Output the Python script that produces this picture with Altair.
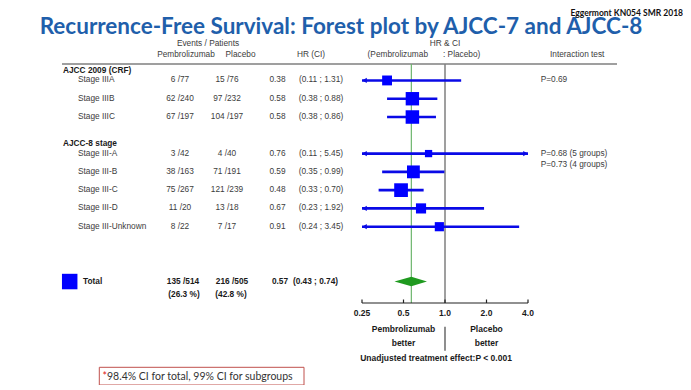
import altair as alt
import pandas as pd

# ---------------- data ----------------
title_text = "Recurrence-Free Survival: Forest plot by AJCC-7 and AJCC-8"
source_text = "Eggermont KN054 SMR 2018"

group_titles = ["AJCC 2009 (CRF)", "AJCC-8 stage"]

ajcc7_labels = ["Stage IIIA", "Stage IIIB", "Stage IIIC"]
ajcc7_pem_events = [6, 62, 67]
ajcc7_pem_n = [77, 240, 197]
ajcc7_pla_events = [15, 97, 104]
ajcc7_pla_n = [76, 232, 197]
ajcc7_hr = [0.38, 0.58, 0.58]
ajcc7_lo = [0.11, 0.38, 0.38]
ajcc7_hi = [1.31, 0.88, 0.86]

ajcc8_labels = ["Stage III-A", "Stage III-B", "Stage III-C", "Stage III-D", "Stage III-Unknown"]
ajcc8_pem_events = [3, 38, 75, 11, 8]
ajcc8_pem_n = [42, 163, 267, 20, 22]
ajcc8_pla_events = [4, 71, 121, 13, 7]
ajcc8_pla_n = [40, 191, 239, 18, 17]
ajcc8_hr = [0.76, 0.59, 0.48, 0.67, 0.91]
ajcc8_lo = [0.11, 0.35, 0.33, 0.23, 0.24]
ajcc8_hi = [5.45, 0.99, 0.70, 1.92, 3.45]

total_label = "Total"
total_pem = [135, 514]
total_pla = [216, 505]
total_pct = ["(26.3 %)", "(42.8 %)"]
total_hr = 0.57
total_ci = [0.43, 0.74]

interaction_texts = [["P=0.69"], ["P=0.68 (5 groups)", "P=0.73 (4 groups)"]]

axis_ticks = [0.25, 0.5, 1.0, 2.0, 4.0]
axis_labels = ["0.25", "0.5", "1.0", "2.0", "4.0"]
favour_labels = [["Pembrolizumab", "better"], ["Placebo", "better"]]
favour_at = [0.5, 2.0]
effect_text = "Unadjusted treatment effect:P  < 0.001"
footnote_star = "*"
footnote_text = "98.4% CI for total, 99% CI for subgroups"

header_top = ["Events / Patients", "HR & CI"]
header_sub = ["Pembrolizumab", "Placebo", "HR (CI)", "(Pembrolizumab", ": Placebo)", "Interaction test"]

# ---------------- tables ----------------
XMIN, XMAX = 0.25, 4.0
groups = [
    (ajcc7_labels, ajcc7_pem_events, ajcc7_pem_n, ajcc7_pla_events, ajcc7_pla_n, ajcc7_hr, ajcc7_lo, ajcc7_hi),
    (ajcc8_labels, ajcc8_pem_events, ajcc8_pem_n, ajcc8_pla_events, ajcc8_pla_n, ajcc8_hr, ajcc8_lo, ajcc8_hi),
]
rows, heads, inter = [], [], []
r = 0
for gi, (lab, pe, pn, qe, qn, hr, lo, hi) in enumerate(groups):
    heads.append({"label": group_titles[gi], "row": r})
    for k, t in enumerate(interaction_texts[gi]):
        inter.append({"label": t, "row": r, "k": k})
    for i in range(len(lab)):
        rows.append({
            "label": lab[i], "row": r,
            "pem": f"{pe[i]} /{pn[i]}", "pla": f"{qe[i]} /{qn[i]}",
            "hr_txt": f"{hr[i]:.2f}", "ci_txt": f"({lo[i]:.2f} ; {hi[i]:.2f})",
            "hr": hr[i], "lo_c": max(lo[i], XMIN), "hi_c": min(hi[i], XMAX),
            "events": pe[i] + qe[i],
            "arr_l": lo[i] < XMIN, "arr_r": hi[i] > XMAX,
        })
        r += 1
    r += 1
total_row = r + 1
df = pd.DataFrame(rows)
dfh = pd.DataFrame(heads)
dfi = pd.DataFrame(inter)
dfi0 = dfi[dfi.k == 0]
dfi1 = dfi[dfi.k == 1]
dft = pd.DataFrame([{
    "label": total_label, "row": total_row,
    "pem": f"{total_pem[0]} /{total_pem[1]}", "pla": f"{total_pla[0]} /{total_pla[1]}",
    "pem_pct": total_pct[0], "pla_pct": total_pct[1],
    "hr_txt": f"{total_hr:.2f}", "ci_txt": f"({total_ci[0]:.2f} ; {total_ci[1]:.2f})",
    "hr": total_hr,
}])
half = 0.26
dfd = pd.DataFrame({
    "x": [total_ci[0], total_hr, total_ci[1]],
    "y": [total_row, total_row - half, total_row],
    "y2": [total_row, total_row + half, total_row],
})
dfl = pd.DataFrame({"arr": df[df.arr_l]["row"], "x": XMIN})
dfr = pd.DataFrame({"arr": df[df.arr_r]["row"], "x": XMAX})
dfticks = pd.DataFrame({"x": axis_ticks, "lab": axis_labels})
dffav = pd.DataFrame([{"x": favour_at[i], "t": favour_labels[i][j], "j": j}
                      for i in range(2) for j in range(2)])

# ---------------- scales / style ----------------
XS = alt.Scale(type="log", domain=[XMIN, XMAX], range=[354, 520], nice=False)
YS = alt.Scale(domain=[0, 8], range=[72.45, 218.7], nice=False, zero=False)
FONT = "Liberation Sans, Arial, sans-serif"
TXT = "#3c3c3c"
DARK = "#1a1a1a"
BLUE = "#0000ff"
LINEBLUE = "#0a0ae6"
GRAY = "#7f7f7f"
FS = 8.3


def X(f):
    return alt.X(f, type="quantitative", scale=XS, axis=None)


def Y(f):
    return alt.Y(f, type="quantitative", scale=YS, axis=None)


def txt(data, xpx, field, align="center", bold=False, dy=0, size=FS, color=TXT):
    return alt.Chart(data).mark_text(
        align=align, baseline="middle", font=FONT, fontSize=size, dy=dy,
        fontWeight="bold" if bold else "normal", color=color
    ).encode(x=alt.value(xpx), y=Y("row"), text=alt.Text(field, type="nominal"))


def label(t, xpx, ypx, align="center", bold=False, size=FS, color=TXT, font=FONT, baseline="middle"):
    return alt.Chart(pd.DataFrame({"t": [t]})).mark_text(
        align=align, baseline=baseline, font=font, fontSize=size,
        fontWeight="bold" if bold else "normal", color=color
    ).encode(x=alt.value(xpx), y=alt.value(ypx), text="t:N")


one = pd.DataFrame({"a": [0]})
layers = []

# title and source
layers.append(label(title_text, 333, 26, bold=True, size=22.5, color="#1f5fab", font="Lato", baseline="alphabetic"))
layers.append(label(source_text, 675, 0.5, align="right", bold=True, size=8.5, color="#111111", font="Lato", baseline="top"))

# column headers
hdr_top_x = [200, 437]
for i, t in enumerate(header_top):
    layers.append(label(t, hdr_top_x[i], 36))
hdr_sub_x = [178, 232.5, 303, 420, 435, 542]
hdr_sub_al = ["center", "center", "center", "right", "left", "left"]
for i, t in enumerate(header_sub):
    layers.append(label(t, hdr_sub_x[i], 46.8, align=hdr_sub_al[i]))

# header underline
layers.append(alt.Chart(one).mark_rule(color=GRAY, strokeWidth=1.5).encode(
    x=alt.value(54), x2=alt.value(609), y=alt.value(56)))

# reference lines
layers.append(alt.Chart(pd.DataFrame({"x": [total_hr]})).mark_rule(color="#6db56d", strokeWidth=1.2).encode(
    x=X("x"), y=alt.value(56), y2=alt.value(295)))
layers.append(alt.Chart(pd.DataFrame({"x": [1.0]})).mark_rule(color=GRAY, strokeWidth=1.5).encode(
    x=X("x"), y=alt.value(56), y2=alt.value(295)))

# CI lines, arrows, squares
layers.append(alt.Chart(df).mark_rule(color=LINEBLUE, strokeWidth=2.6).encode(
    x=X("lo_c"), x2="hi_c", y=Y("row")))
layers.append(alt.Chart(dfl).mark_point(shape="triangle-left", filled=True, size=28, opacity=1,
                                        color=LINEBLUE, xOffset=2.5).encode(x=X("x"), y=Y("arr")))
layers.append(alt.Chart(dfr).mark_point(shape="triangle-right", filled=True, size=28, opacity=1,
                                        color=LINEBLUE, xOffset=-2.5).encode(x=X("x"), y=Y("arr")))
layers.append(alt.Chart(df).mark_square(color=BLUE, opacity=1).encode(
    x=X("hr"), y=Y("row"),
    size=alt.Size("events:Q", scale=alt.Scale(type="log", domain=[7, 196], range=[53, 188]), legend=None)))

# total diamond
layers.append(alt.Chart(dfd).mark_area(color="#1f9a1f", opacity=1).encode(
    x=X("x"), y=Y("y"), y2="y2"))

# row texts
layers.append(txt(dfh, 55, "label", align="left", bold=True, dy=-9.5, color=DARK))
layers.append(txt(df, 70, "label", align="left"))
layers.append(txt(df, 172, "pem"))
layers.append(txt(df, 219, "pla"))
layers.append(txt(df, 269.5, "hr_txt"))
layers.append(txt(df, 313, "ci_txt"))
layers.append(txt(dfi0, 532.7, "label", align="left"))
layers.append(txt(dfi1, 532.7, "label", align="left", dy=11.7))

# total row
layers.append(alt.Chart(dft).mark_square(color=BLUE, opacity=1, size=240).encode(
    x=alt.value(61.7), y=Y("row")))
layers.append(txt(dft, 75, "label", align="left", bold=True, color=DARK))
layers.append(txt(dft, 175, "pem", bold=True, color=DARK))
layers.append(txt(dft, 224, "pla", bold=True, color=DARK))
layers.append(txt(dft, 176, "pem_pct", bold=True, dy=13.5, color=DARK))
layers.append(txt(dft, 223, "pla_pct", bold=True, dy=13.5, color=DARK))
layers.append(txt(dft, 272, "hr_txt", bold=True, color=DARK))
layers.append(txt(dft, 307.5, "ci_txt", bold=True, color=DARK))

# axis
layers.append(alt.Chart(pd.DataFrame({"x": [XMIN], "x2": [XMAX]})).mark_rule(color="#222222", strokeWidth=1.2).encode(
    x=X("x"), x2="x2", y=alt.value(295)))
layers.append(alt.Chart(dfticks).mark_rule(color="#222222", strokeWidth=1.2).encode(
    x=X("x"), y=alt.value(291.5), y2=alt.value(295)))
layers.append(alt.Chart(dfticks).mark_text(baseline="middle", font=FONT, fontSize=8.5, fontWeight="bold",
                                           color=DARK).encode(
    x=X("x"), y=alt.value(305), text="lab:N"))
layers.append(alt.Chart(dffav).mark_text(baseline="middle", font=FONT, fontSize=8.5, fontWeight="bold",
                                         color=DARK).encode(
    x=X("x"), y=alt.Y("j:Q", scale=alt.Scale(domain=[0, 1], range=[321, 335.3]), axis=None), text="t:N"))
layers.append(alt.Chart(pd.DataFrame({"x": [1.0]})).mark_rule(color="#444444", strokeWidth=1.2).encode(
    x=X("x"), y=alt.value(318.7), y2=alt.value(342.7)))
layers.append(label(effect_text, 428, 350.3, bold=True, size=8.5, color=DARK))

# footnote
layers.append(alt.Chart(one).mark_rect(fill="white", stroke="#c0504d", strokeWidth=1).encode(
    x=alt.value(91.3), x2=alt.value(296), y=alt.value(359.3), y2=alt.value(377)))
layers.append(label(footnote_star, 94.5, 368.5, align="left", size=10.5, color="#e02020", font="Lato"))
layers.append(label(footnote_text, 99, 368.5, align="left", size=10.5, color="#333333", font="Lato"))

chart = alt.layer(*layers).resolve_scale(y="independent").properties(
    width=675, height=377, autosize="none", padding=0
).configure_view(strokeWidth=0)

chart.save("out.html", embed_options={"renderer": "svg", "actions": False})
